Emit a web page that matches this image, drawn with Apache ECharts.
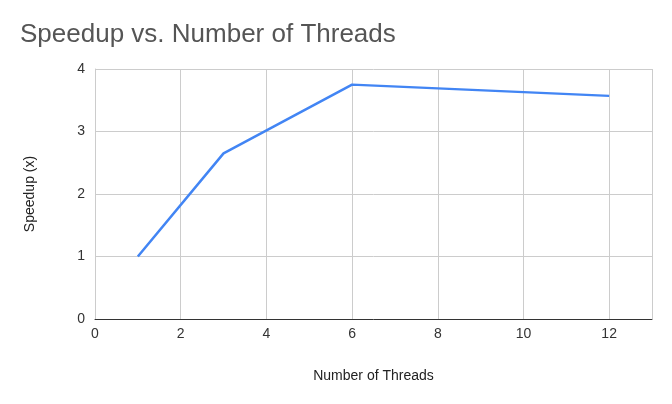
<!DOCTYPE html>
<html><head><meta charset="utf-8">
<script src="https://cdn.jsdelivr.net/npm/echarts@6/dist/echarts.min.js"></script>
<style>html,body{margin:0;padding:0;background:#fff}#c{width:672px;height:404px}</style>
</head><body><div id="c"></div>
<script>
const threads = [1, 3, 6, 12];
const speedup = [1, 2.65, 3.75, 3.57];
const chart = echarts.init(document.getElementById('c'));
chart.setOption({
  backgroundColor:'#fff',
  animation:false,
  title:{text:'Speedup vs. Number of Threads',left:15,top:17,textStyle:{fontFamily:'Liberation Sans, Arial',fontSize:26,fontWeight:'normal',color:'#555'}},
  grid:{left:95,right:20,top:69,bottom:85},
  xAxis:{type:'value',min:0,max:13,interval:2,
    name:'Number of Threads',nameLocation:'middle',nameGap:50,
    nameTextStyle:{fontFamily:'Liberation Sans, Arial',fontSize:14,color:'#222'},
    axisLine:{show:true,lineStyle:{color:'#333'}},axisTick:{show:false},
    axisLabel:{showMaxLabel:false,fontFamily:'Liberation Sans, Arial',fontSize:14,color:'#333',margin:8},
    splitLine:{show:true,lineStyle:{color:'#ccc'}}},
  yAxis:{type:'value',min:0,max:4,interval:1,
    name:'Speedup (x)',nameLocation:'middle',nameGap:58,
    nameTextStyle:{fontFamily:'Liberation Sans, Arial',fontSize:14,color:'#222'},
    axisLine:{show:true,lineStyle:{color:'#ccc'}},axisTick:{show:false},
    axisLabel:{fontFamily:'Liberation Sans, Arial',fontSize:14,color:'#333',margin:10},
    splitLine:{show:true,lineStyle:{color:'#ccc'}}},
  series:[{type:'line',data:threads.map((t,i)=>[t,speedup[i]]),symbol:'none',
    lineStyle:{color:'#4285f4',width:2.5}}]
});
</script></body></html>
